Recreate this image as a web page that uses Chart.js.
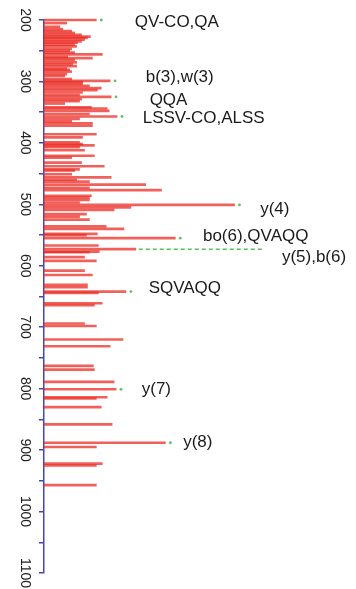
<!DOCTYPE html>
<html>
<head>
<meta charset="utf-8">
<script src="https://cdn.jsdelivr.net/npm/chart.js@4.4.0/dist/chart.umd.min.js"></script>
<style>
html,body{margin:0;padding:0;background:#fff;}
#wrap{position:relative;width:356px;height:589px;}
</style>
</head>
<body>
<div id="wrap"><canvas id="c"></canvas></div>
<script>
// m/z positions of the peaks
const peakMz = [
  200,205,211,215,218,221,224,227,229,232,235,237,240,243,247,250,253,256,260,262,265,269,272,275,279,281,284,288,291,296,299,301,
  304,307,311,314,318,322,325,329,332,336,342,344,348,353,357,361,365,368,372,386,391,399,402,404,407,412,
  421,424,432,438,443,445,451,456,460,463,468,473,477,486,489,493,497,501,505,509,516,520,525,
  536,540,548,550,555,567,573,577,578,586,592,608,615,631,
  635,642,644,661,664,694,698,720,731,763,769,789,
  801,814,816,830,858,888,895,922,925,957
];
// peak intensities (relative units)
const peakInt = [
  53,23,16,19,28,31,38,47,44,41,38,34,31,33,28,26,31,59,24,49,31,33,29,33,23,26,28,23,21,28,67,39,
  39,46,58,54,39,36,68,38,36,21,48,64,66,46,74,36,28,49,49,53,39,36,39,51,36,41,
  51,28,38,61,36,31,28,68,33,46,103,46,119,48,46,46,36,193,88,71,43,36,46,
  63,81,54,43,133,55,93,56,46,41,53,41,49,44,
  44,83,55,59,51,41,53,80,67,50,51,71,
  73,64,53,58,69,123,53,59,53,53
];
// annotated peaks
const annMz = [200,299,325,357,501,555,573,642,801,888];
const annText = ['QV-CO,QA','b(3),w(3)','QQA','LSSV-CO,ALSS','y(4)','bo(6),QVAQQ','y(5),b(6)','SQVAQQ','y(7)','y(8)'];
// label anchor (intensity units, m/z)
const annLabelX = [92,103,107,100,219,161,241,106,99,141];
const annLabelMz = [204.5,293,330,360,508,552,586.5,637,801.5,887];
// leader line for y(5),b(6)
const leaderMz = 573;
const leaderEnd = 221;
// axis ticks
const yMin = 200, yMax = 1100, yStep = 50;

const intAt = mz => peakInt[peakMz.indexOf(mz)];
const barData = peakMz.map((m,i)=>({x:peakInt[i], y:m}));
const dotData = annMz.filter(m=>m!==leaderMz).map(m=>({x:intAt(m)+5, y:m}));
const leaderData = [{x:intAt(leaderMz)+3, y:leaderMz},{x:leaderEnd, y:leaderMz}];

const FONT = "'Liberation Sans', Arial, Helvetica, sans-serif";
const AXIS = '#4646b4';

const labelPlugin = {
  id:'annLabels',
  afterDatasetsDraw(chart){
    const {ctx, scales:{x,y}} = chart;
    ctx.save();
    ctx.font = '17px ' + FONT;
    ctx.fillStyle = '#1a1a1a';
    ctx.textAlign = 'left';
    ctx.textBaseline = 'middle';
    annText.forEach((t,i)=>{
      ctx.fillText(t, x.getPixelForValue(annLabelX[i]), y.getPixelForValue(annLabelMz[i]));
    });
    ctx.restore();
  }
};

new Chart(document.getElementById('c'), {
  type:'bar',
  data:{
    datasets:[
      {type:'bar', data:barData, backgroundColor:'rgba(234,42,32,0.74)', borderWidth:0, barThickness:2, clip:false, order:2},
      {type:'line', data:leaderData, borderColor:'#5cc05c', borderWidth:1.5, borderDash:[4,3], pointRadius:0, fill:false, clip:false, order:1},
      {type:'scatter', data:dotData, backgroundColor:'#5cc05c', borderWidth:0, pointRadius:1.4, clip:false, order:1}
    ]
  },
  options:{
    indexAxis:'y',
    responsive:true,
    maintainAspectRatio:false,
    animation:false,
    layout:{padding:{top:20,bottom:16,left:0,right:0}},
    plugins:{legend:{display:false}, tooltip:{enabled:false}},
    scales:{
      x:{type:'linear', display:false, min:0, max:312, offset:false},
      y:{
        type:'linear', reverse:true, min:yMin, max:yMax, offset:false,
        afterFit(s){ s.width = 44; s.paddingTop = 0; s.paddingBottom = 0; },
        border:{display:true, color:AXIS, width:1.5},
        grid:{offset:false, drawOnChartArea:false, drawTicks:true, tickLength:5, color:AXIS, lineWidth:1.5},
        ticks:{
          stepSize:yStep, autoSkip:false, minRotation:-90, maxRotation:-90,
          crossAlign:'center', padding:-1,
          color:'#222', font:{family:FONT, size:14},
          callback:v=> (v % 100 === 0 ? String(v) : '')
        }
      }
    }
  },
  plugins:[labelPlugin]
});
</script>
</body>
</html>
